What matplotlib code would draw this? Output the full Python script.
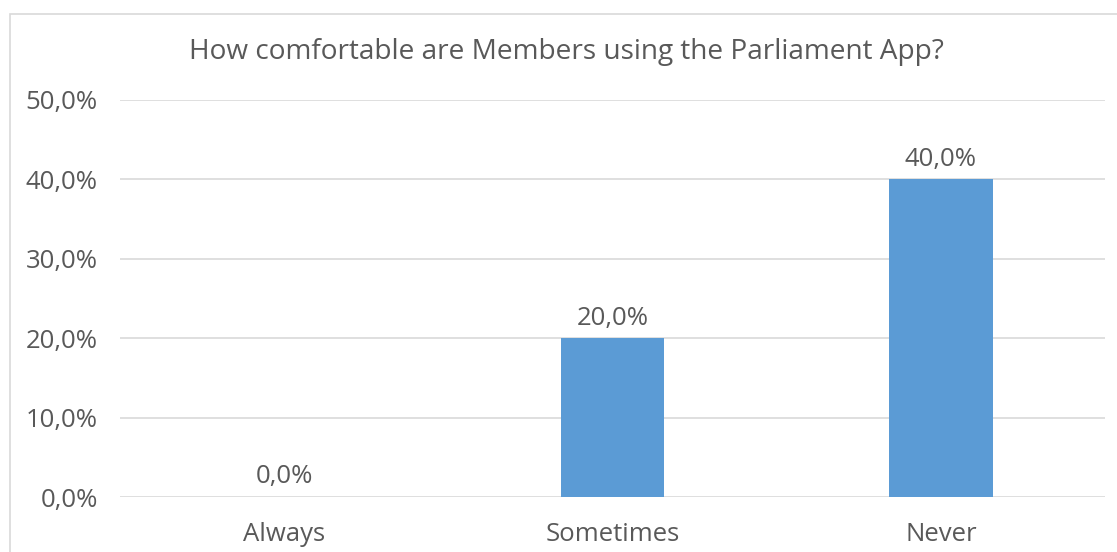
import matplotlib
matplotlib.use("Agg")
import matplotlib.pyplot as plt
from matplotlib.patches import Rectangle

categories = ["Always", "Sometimes", "Never"]
values = [0.0, 20.0, 40.0]
yticks = [0, 10, 20, 30, 40, 50]
title = "How comfortable are Members using the Parliament App?"

BAR = "#5B9BD5"
TXT = "#595959"
GRID = "#D9D9D9"

plt.rcParams["font.family"] = ["Open Sans", "DejaVu Sans"]

W, H = 1117, 552
fig = plt.figure(figsize=(W / 100, H / 100), dpi=100)

# outer chart frame
fig.patches.append(Rectangle((10 / W, -0.05), 1.2, 1 - 14 / H + 0.05,
                             transform=fig.transFigure, fill=False,
                             edgecolor=GRID, linewidth=1.2))

ax = fig.add_axes([120 / W, 1 - 497 / H, (1105 - 120) / W, (497 - 100) / H])
x = range(len(categories))
ax.bar(x, values, width=0.315, color=BAR, zorder=3)
ax.set_xlim(-0.5, len(categories) - 0.5)
ax.set_ylim(0, 50)

ax.set_yticks(yticks)
ax.set_yticklabels([f"{v:.1f}%".replace(".", ",") for v in yticks])
ax.set_xticks(list(x))
ax.set_xticklabels(categories)
ax.tick_params(axis="both", length=0, labelsize=18.5, colors=TXT)
ax.tick_params(axis="y", pad=16)
ax.tick_params(axis="x", pad=18)

ax.grid(axis="y", color=GRID, linewidth=1.2, zorder=0)
for s in ax.spines.values():
    s.set_visible(False)

for i, v in enumerate(values):
    ax.annotate(f"{v:.1f}%".replace(".", ","), (i, v), xytext=(0, 5.5),
                textcoords="offset points", ha="center", va="bottom",
                fontsize=18.5, color=TXT)

fig.text(566 / W, 1 - 52 / H, title, ha="center", va="center",
         fontsize=20.2, color=TXT)

fig.savefig("out.png", dpi=100)
